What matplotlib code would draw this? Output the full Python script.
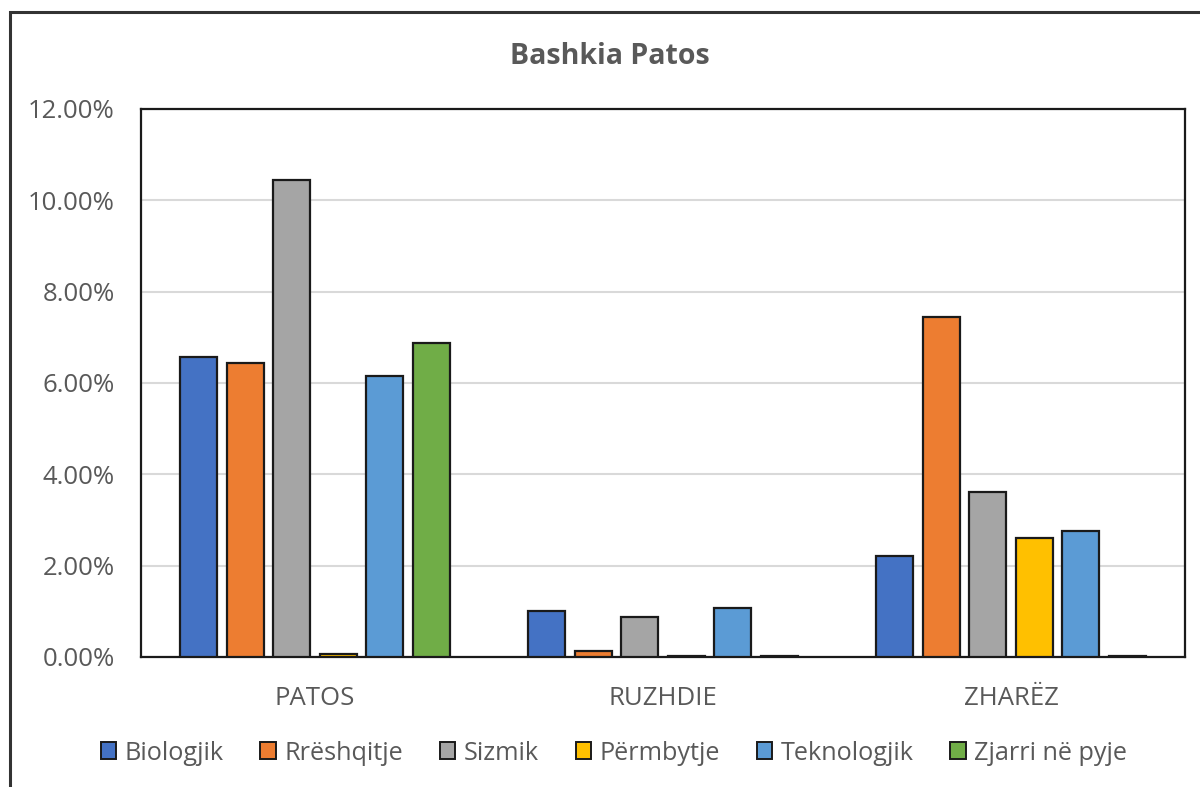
import matplotlib
matplotlib.use("Agg")
import matplotlib.pyplot as plt
from matplotlib.patches import Patch, Rectangle
from matplotlib.ticker import FuncFormatter
import numpy as np

# Data: share of each hazard type per administrative unit (%)
categories = ["PATOS", "RUZHDIE", "ZHARËZ"]
series_names = ["Biologjik", "Rrëshqitje", "Sizmik", "Përmbytje", "Teknologjik", "Zjarri në pyje"]
biologjik = [6.56, 1.01, 2.22]
rreshqitje = [6.44, 0.13, 7.45]
sizmik = [10.44, 0.87, 3.62]
permbytje = [0.07, 0.02, 2.61]
teknologjik = [6.16, 1.08, 2.77]
zjarri = [6.88, 0.02, 0.03]
series_values = [biologjik, rreshqitje, sizmik, permbytje, teknologjik, zjarri]
colors = ["#4472C4", "#ED7D31", "#A5A5A5", "#FFC000", "#5B9BD5", "#70AD47"]
y_ticks = [0, 2, 4, 6, 8, 10, 12]

plt.rcParams["font.family"] = ["Open Sans", "DejaVu Sans"]
text_color = "#595959"

fig = plt.figure(figsize=(12, 7.87), dpi=100)
W, H = 1200, 787
ax = fig.add_axes([141 / W, 1 - 657 / H, (1185 - 141) / W, (657 - 109) / H])

x = np.arange(len(categories))
step = 0.1335
width = 0.106
n = len(series_names)
for i, (name, vals, c) in enumerate(zip(series_names, series_values, colors)):
    ax.bar(x + (i - (n - 1) / 2) * step, vals, width=width, color=c,
           edgecolor="#1a1a1a", linewidth=1.6, label=name, zorder=3)

ax.set_xlim(-0.5, 2.5)
ax.set_ylim(0, 12)
ax.set_yticks(y_ticks)
ax.yaxis.set_major_formatter(FuncFormatter(lambda v, p: f"{v:.2f}%"))
ax.set_xticks(x)
ax.set_xticklabels(categories)
ax.tick_params(axis="both", length=0, labelsize=18.5, colors=text_color)
ax.tick_params(axis="y", pad=19)
ax.tick_params(axis="x", pad=21)
ax.grid(axis="y", color="#D9D9D9", linewidth=1.5, zorder=0)
for s in ax.spines.values():
    s.set_color("#1a1a1a")
    s.set_linewidth(1.6)

fig.text(610 / W, 1 - 57 / H, "Bashkia Patos", ha="center", va="center",
         fontsize=20.5, fontweight="bold", color=text_color)

handles = [Patch(facecolor=c, edgecolor="#1a1a1a", linewidth=1.4) for c in colors]
fig.legend(handles, series_names, loc="center", bbox_to_anchor=(614 / W, 1 - 753 / H),
           ncol=6, frameon=False, fontsize=18.2, handlelength=0.62, handleheight=0.62,
           handletextpad=0.33, columnspacing=1.45, labelcolor=text_color)

# outer chart frame
fig.patches.append(Rectangle((10 / W, -0.05), 1.2, 1 - 12 / H + 0.05,
                             transform=fig.transFigure, fill=False,
                             edgecolor="#333333", linewidth=2.2))

fig.savefig("out.png", dpi=100)
